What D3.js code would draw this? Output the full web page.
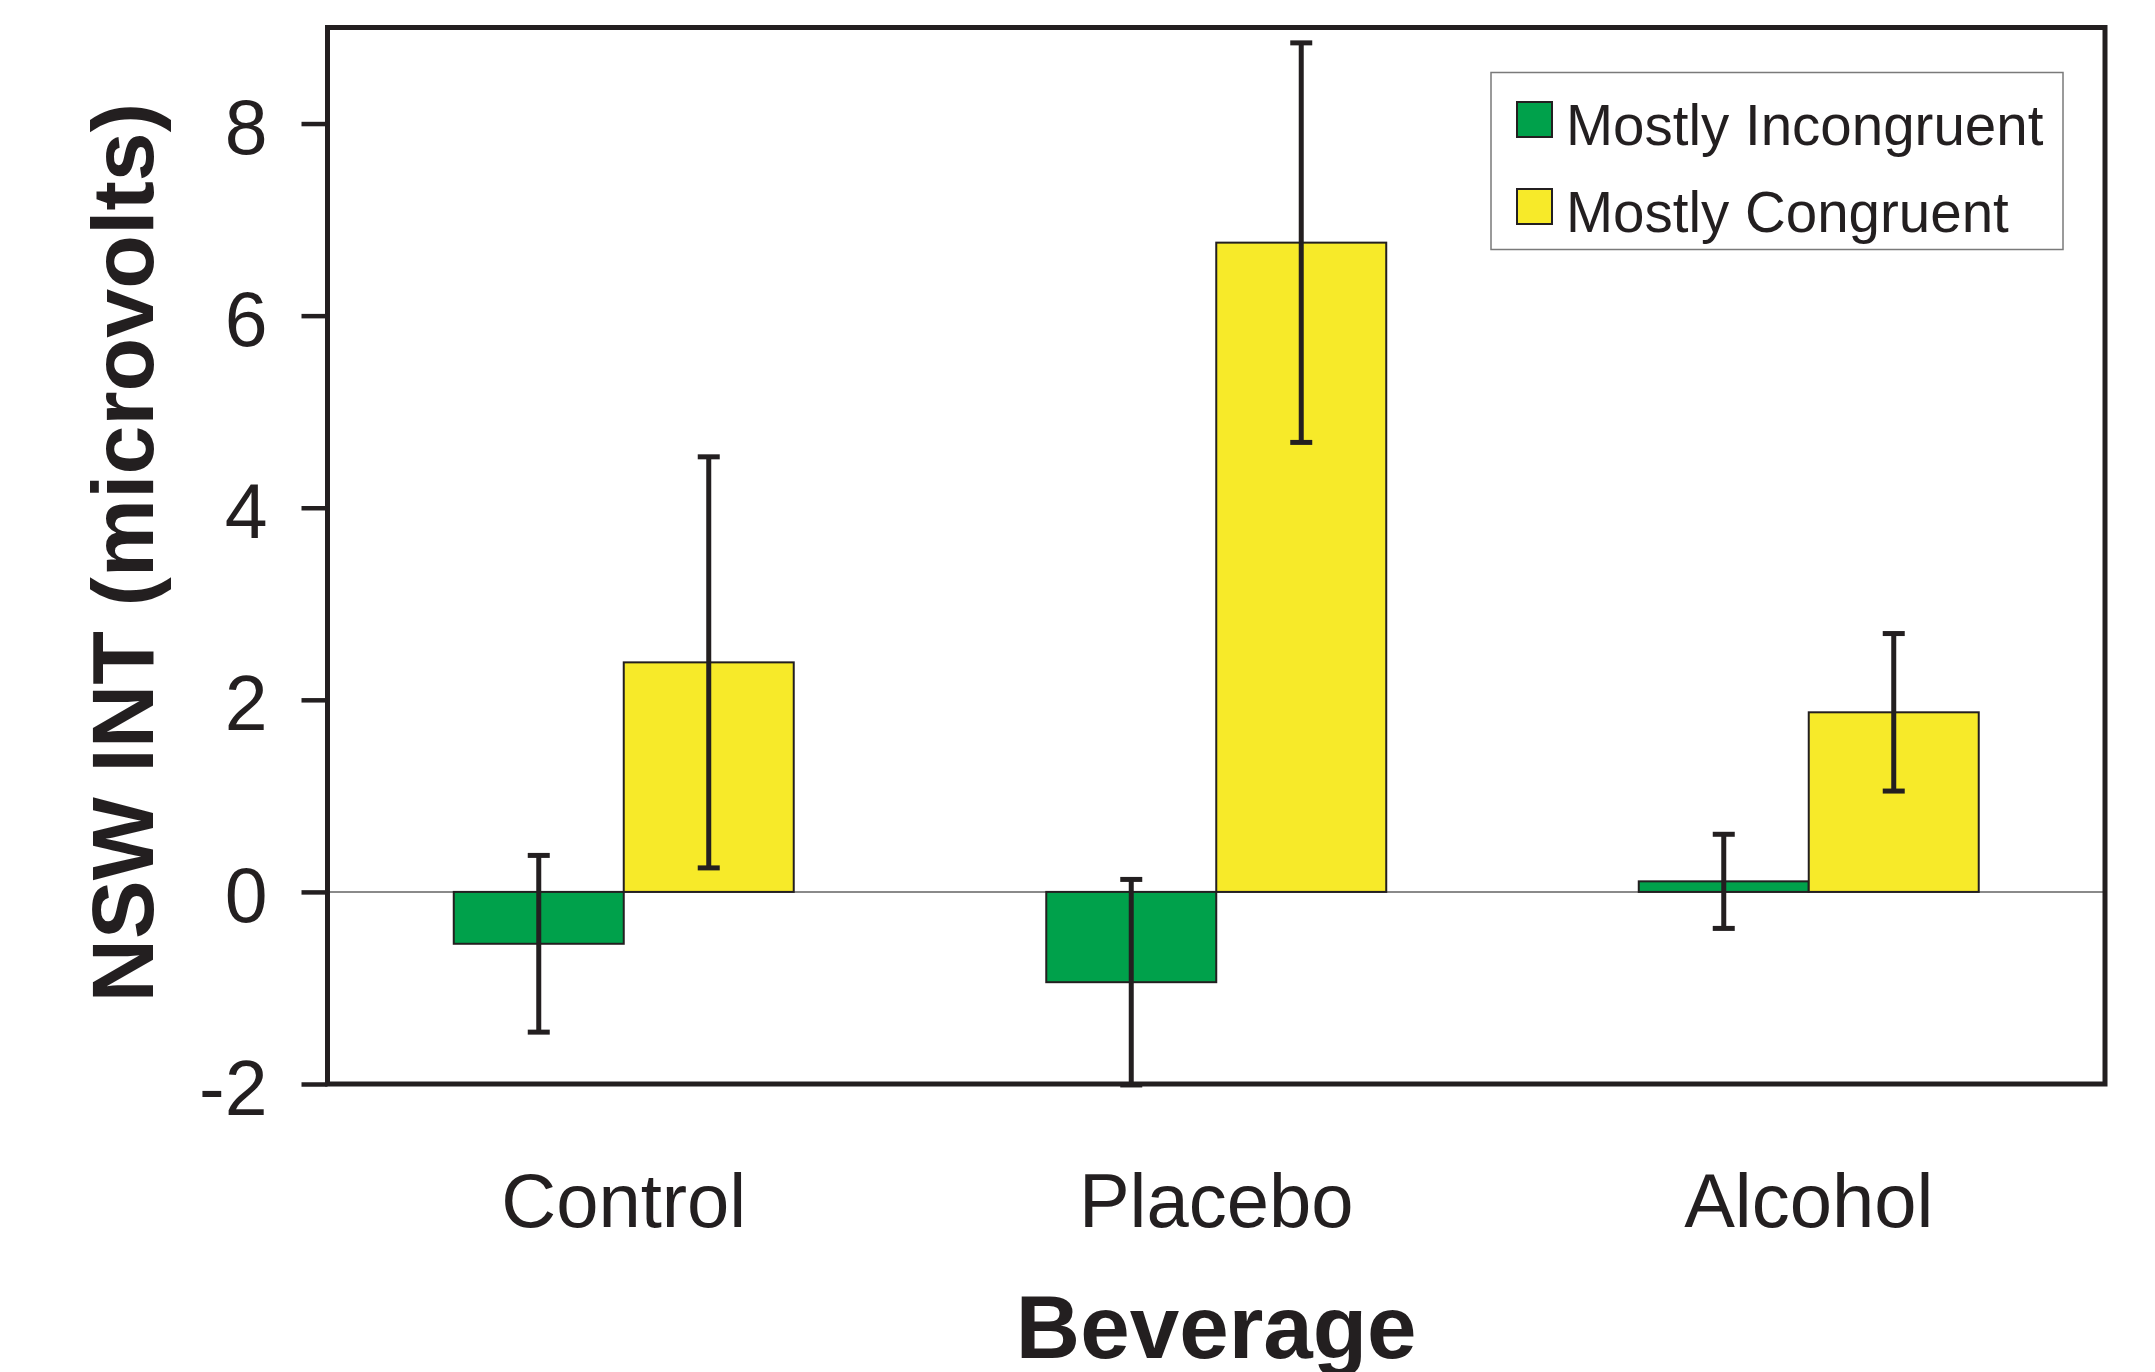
<!DOCTYPE html>
<html>
<head>
<meta charset="utf-8">
<script src="https://cdn.jsdelivr.net/npm/d3@7"></script>
<style>
  html, body { margin: 0; padding: 0; background: #fff; }
  svg { display: block; }
  text { font-family: "Liberation Sans", Arial, Helvetica, sans-serif; fill: #231f20; }
</style>
</head>
<body>
<svg id="chart" width="2155" height="1372"></svg>
<script>
// Beverage groups and condition series
const categories = ["Control", "Placebo", "Alcohol"];
const seriesNames = ["Mostly Incongruent", "Mostly Congruent"];
const incongruentMeans = [-0.54, -0.94, 0.11];
const incongruentErrors = [0.92, 1.07, 0.49];
const congruentMeans = [2.39, 6.76, 1.87];
const congruentErrors = [2.14, 2.08, 0.82];
const yTickValues = [-2, 0, 2, 4, 6, 8];
const seriesColors = ["#00a14b", "#f7ea29"];

const ink = "#231f20";
const svg = d3.select("#chart");

const plot = { left: 327.5, right: 2105, top: 27.5, bottom: 1084 };

const x = d3.scaleBand()
  .domain(categories)
  .range([plot.left, plot.right])
  .paddingInner(0.4262)
  .paddingOuter(0.2131);

const xInner = d3.scaleBand()
  .domain(seriesNames)
  .range([0, x.bandwidth()])
  .padding(0);

const y = d3.scaleLinear().domain([-2, 9]).range([plot.bottom, plot.top]);

const color = d3.scaleOrdinal().domain(seriesNames).range(seriesColors);

const rows = [];
categories.forEach((c, i) => {
  rows.push({ cat: c, series: seriesNames[0], mean: incongruentMeans[i], err: incongruentErrors[i] });
  rows.push({ cat: c, series: seriesNames[1], mean: congruentMeans[i], err: congruentErrors[i] });
});

// zero reference line
svg.append("line")
  .attr("x1", plot.left).attr("x2", plot.right)
  .attr("y1", y(0)).attr("y2", y(0))
  .attr("stroke", "#8a8a8a").attr("stroke-width", 2);

// bars
svg.append("g").selectAll("rect")
  .data(rows)
  .join("rect")
  .attr("x", d => x(d.cat) + xInner(d.series))
  .attr("width", xInner.bandwidth())
  .attr("y", d => y(Math.max(0, d.mean)))
  .attr("height", d => Math.abs(y(d.mean) - y(0)))
  .attr("fill", d => color(d.series))
  .attr("stroke", ink)
  .attr("stroke-width", 2);

// error bars
const capHalf = 11;
const eb = svg.append("g").attr("stroke", ink).attr("stroke-width", 5);
rows.forEach(d => {
  const cx = x(d.cat) + xInner(d.series) + xInner.bandwidth() / 2;
  const hi = y(d.mean + d.err), lo = y(d.mean - d.err);
  eb.append("line").attr("x1", cx).attr("x2", cx).attr("y1", hi).attr("y2", lo);
  eb.append("line").attr("x1", cx - capHalf).attr("x2", cx + capHalf).attr("y1", hi).attr("y2", hi);
  eb.append("line").attr("x1", cx - capHalf).attr("x2", cx + capHalf).attr("y1", lo).attr("y2", lo);
});

// frame
svg.append("rect")
  .attr("x", plot.left).attr("y", plot.top)
  .attr("width", plot.right - plot.left).attr("height", plot.bottom - plot.top)
  .attr("fill", "none").attr("stroke", ink).attr("stroke-width", 5);

// y axis
const yAxis = d3.axisLeft(y)
  .tickValues(yTickValues)
  .tickFormat(d => String(d).replace("\u2212", "-"))
  .tickSize(26)
  .tickPadding(34);
const gy = svg.append("g").attr("transform", `translate(${plot.left},0)`).call(yAxis);
gy.select(".domain").remove();
gy.selectAll(".tick line").attr("stroke", ink).attr("stroke-width", 4.5);
gy.selectAll(".tick text")
  .attr("font-size", 77)
  .attr("dy", "0.39em")
  .style("fill", ink)
  .style("font-family", "'Liberation Sans', Arial, sans-serif");

// x category labels
const xAxis = d3.axisBottom(x).tickSize(0).tickPadding(0);
const gx = svg.append("g").attr("transform", `translate(0,1227)`).call(xAxis);
gx.select(".domain").remove();
gx.selectAll(".tick text")
  .attr("y", 0).attr("dy", 0)
  .attr("font-size", 76)
  .style("fill", ink)
  .style("font-family", "'Liberation Sans', Arial, sans-serif");

// axis titles
svg.append("text")
  .attr("x", (plot.left + plot.right) / 2)
  .attr("y", 1358)
  .attr("text-anchor", "middle")
  .attr("font-size", 89)
  .attr("font-weight", "bold")
  .text("Beverage");

svg.append("text")
  .attr("transform", `translate(153,${(plot.top + plot.bottom) / 2 - 3}) rotate(-90)`)
  .attr("text-anchor", "middle")
  .attr("font-size", 88)
  .attr("font-weight", "bold")
  .text("NSW INT (microvolts)");

// legend
const legend = svg.append("g");
legend.append("rect")
  .attr("x", 1491).attr("y", 72.5)
  .attr("width", 572).attr("height", 177)
  .attr("fill", "#fff").attr("stroke", "#7a7a7a").attr("stroke-width", 1.5);
const legendRows = [145, 232];
seriesNames.forEach((s, i) => {
  legend.append("rect")
    .attr("x", 1517).attr("y", legendRows[i] - 43)
    .attr("width", 35).attr("height", 35)
    .attr("fill", color(s)).attr("stroke", ink).attr("stroke-width", 2);
  legend.append("text")
    .attr("x", 1566).attr("y", legendRows[i])
    .attr("font-size", 56.5)
    .text(s);
});
</script>
</body>
</html>
